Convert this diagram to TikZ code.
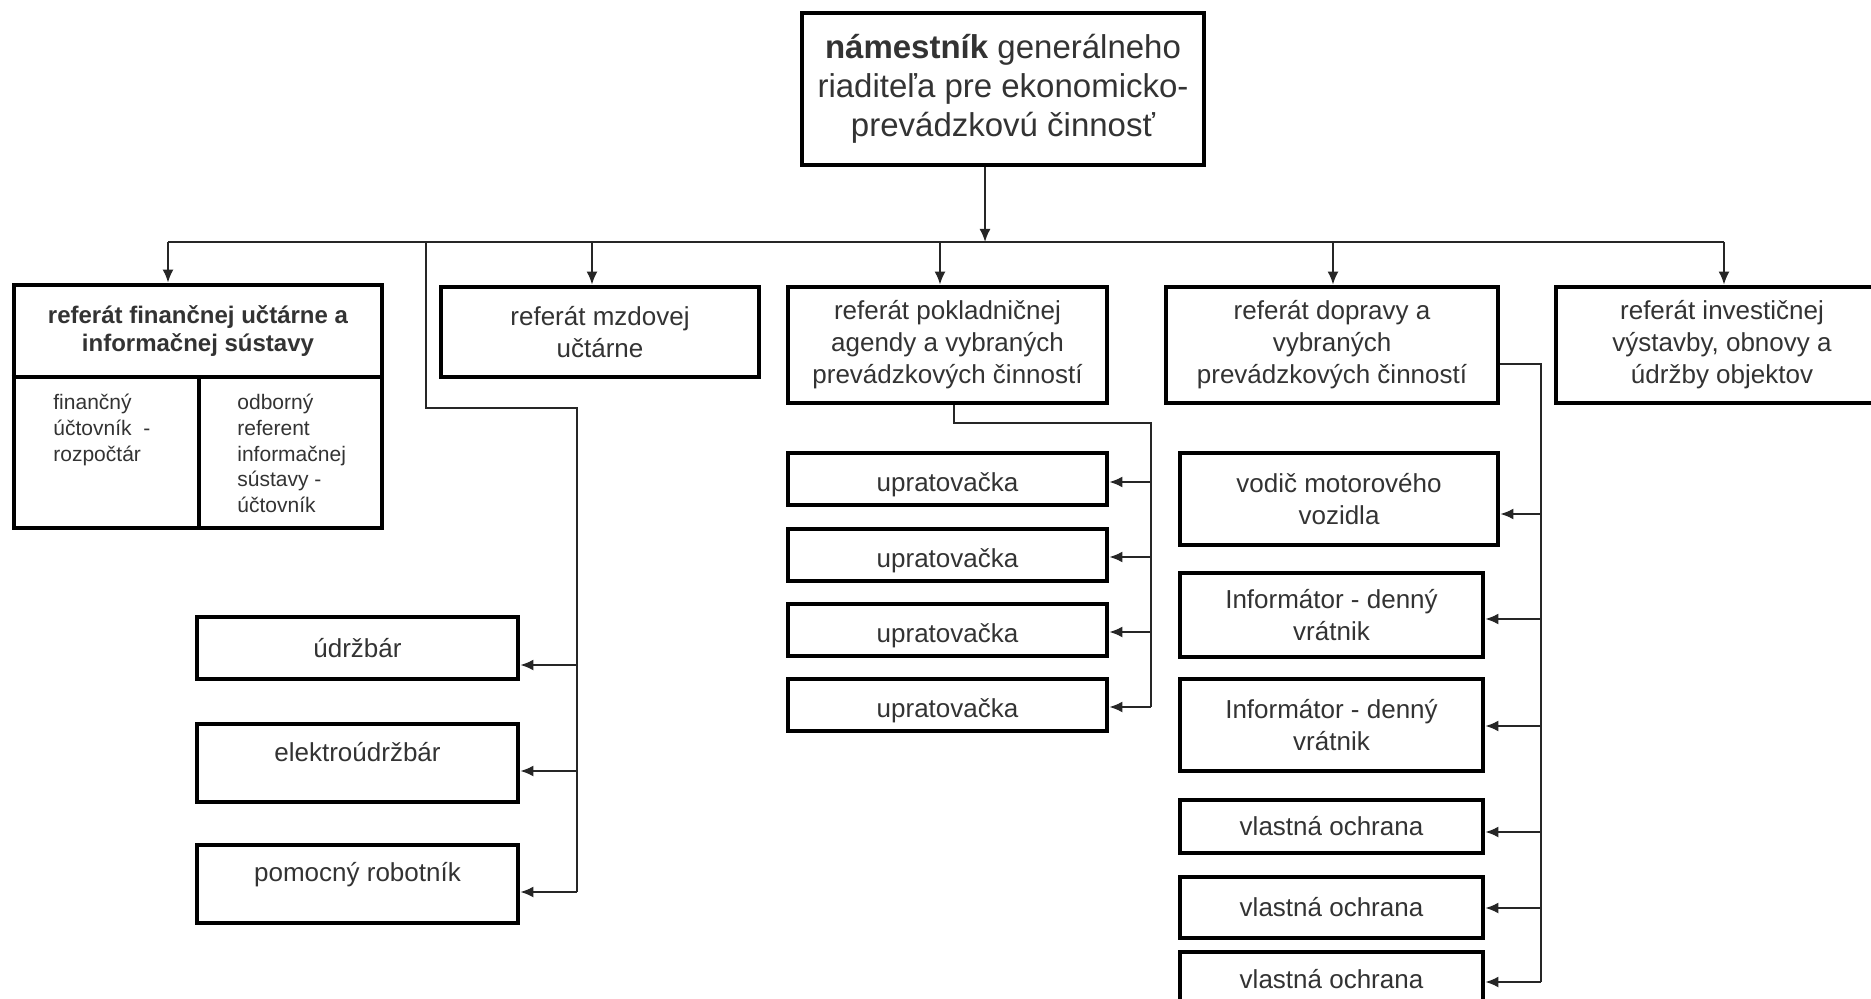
\documentclass[tikz,border=0pt]{standalone}
\usepackage{fontspec}
\setmainfont{Liberation Sans}
\usetikzlibrary{arrows.meta}
\definecolor{txt}{HTML}{333333}
\begin{document}
\begin{tikzpicture}[x=0.5pt,y=-0.5pt,
  box/.style={draw=black, line width=2.4pt, fill=white, inner sep=0pt, align=center, text=txt, font=\fontsize{13}{16}\selectfont},
  celltext/.style={anchor=north west, inner sep=0pt, align=left, text=txt, font=\fontsize{10.5}{12.8}\selectfont},
  conn/.style={draw=black!85, line width=0.9pt},
  arr/.style={conn, -{Latex[length=6.5pt,width=5.5pt]}},
  divider/.style={draw=black, line width=2.4pt}
]
\useasboundingbox (0,0) rectangle (1871,999);
\clip (0,0) rectangle (1871,999);

% top box
\node[box, font=\fontsize{16.5}{19.5}\selectfont, minimum width=201pt, minimum height=76pt] (top) at (1003,89)
  {\textbf{námestník} generálneho\\riaditeľa pre ekonomicko-\\prevádzkovú činnosť};

% second level
\node[box, minimum width=184pt, minimum height=121.5pt] (fin) at (198,406.5) {};
\node[inner sep=0pt, align=center, text=txt, font=\fontsize{12}{14}\selectfont\bfseries] (fintitle) at (198,331)
  {referát finančnej učtárne a\\informačnej sústavy};
\draw[divider] (fin.west |- 0,377) -- (fin.east |- 0,377);
\draw[divider] (199,377) -- (199,528);
\node[celltext] (cellA) at (53,394) {finančný\\účtovník\ \ -\\rozpočtár};
\node[celltext] (cellB) at (237,394) {odborný\\referent\\informačnej\\sústavy -\\účtovník};

\node[box, minimum width=159pt, minimum height=45pt] (mzd) at (600,332) {referát mzdovej\\učtárne};
\node[box, minimum width=159.5pt, minimum height=58pt] (pok) at (947.5,345) {referát pokladničnej\\agendy a vybraných\\prevádzkových činností};
\node[box, minimum width=166pt, minimum height=58pt] (dop) at (1332,345) {referát dopravy a\\vybraných\\prevádzkových činností};
\node[box, minimum width=166pt, minimum height=58pt] (inv) at (1722,345) {referát investičnej\\výstavby, obnovy a\\údržby objektov};

% left branch children
\node[box, minimum width=160.5pt, minimum height=31pt] (udr) at (357.5,648) {údržbár};
\node[box, minimum width=160.5pt, minimum height=39pt] (ele) at (357.5,763) {\raisebox{0.6pt}[0pt][0pt]{elektroúdržbár}};
\node[box, minimum width=160.5pt, minimum height=39pt] (pom) at (357.5,884) {\raisebox{1.1pt}[0pt][0pt]{pomocný robotník}};

% pokladnicna children
\node[box, minimum width=159.5pt, minimum height=26pt] (up1) at (947.5,479) {\raisebox{-6pt}[0pt][0pt]{upratovačka}};
\node[box, minimum width=159.5pt, minimum height=26pt] (up2) at (947.5,555) {\raisebox{-6pt}[0pt][0pt]{upratovačka}};
\node[box, minimum width=159.5pt, minimum height=26pt] (up3) at (947.5,630) {\raisebox{-6pt}[0pt][0pt]{upratovačka}};
\node[box, minimum width=159.5pt, minimum height=26pt] (up4) at (947.5,705) {\raisebox{-6pt}[0pt][0pt]{upratovačka}};

% doprava children
\node[box, minimum width=159pt, minimum height=46pt] (vod) at (1339,499) {vodič motorového\\vozidla};
\node[box, minimum width=151.5pt, minimum height=42pt] (inf1) at (1331.5,615) {Informátor - denný\\vrátnik};
\node[box, minimum width=151.5pt, minimum height=46pt] (inf2) at (1331.5,725) {Informátor - denný\\vrátnik};
\node[box, minimum width=151.5pt, minimum height=26.5pt] (vo1) at (1331.5,826.5) {vlastná ochrana};
\node[box, minimum width=151.5pt, minimum height=30.5pt] (vo2) at (1331.5,907.5) {vlastná ochrana};
\node[box, minimum width=151.5pt, minimum height=30pt] (vo3) at (1331.5,982) {\raisebox{3pt}{vlastná ochrana}};

% main bus
\coordinate (bus) at (985,242);
\coordinate (busL) at (168,242);
\coordinate (busR) at (1724,242);
\coordinate (mzdx) at (592,242);
\coordinate (pokx) at (940,242);
\coordinate (dopx) at (1333,242);
\draw[conn] (busL) -- (busR);
\draw[arr] (top.south -| bus) -- (bus);
\draw[arr] (busL) -- (busL |- fin.north);
\draw[arr] (mzdx) -- (mzdx |- mzd.north);
\draw[arr] (pokx) -- (pokx |- pok.north);
\draw[arr] (dopx) -- (dopx |- dop.north);
\draw[arr] (busR) -- (busR |- inv.north);

% left branch (from bus, under mzdova)
\coordinate (lb1) at (426,242);
\coordinate (lb2) at (426,408);
\coordinate (lb3) at (577,408);
\coordinate (la1) at (577,665);
\coordinate (la2) at (577,771);
\coordinate (la3) at (577,892);
\draw[conn] (lb1) -- (lb2) -- (lb3) -- (la3);
\draw[arr] (la1) -- (la1 -| udr.east);
\draw[arr] (la2) -- (la2 -| ele.east);
\draw[arr] (la3) -- (la3 -| pom.east);

% pokladnicna branch
\coordinate (p1) at (954,423);
\coordinate (p2) at (1151,423);
\coordinate (pa1) at (1151,482);
\coordinate (pa2) at (1151,557);
\coordinate (pa3) at (1151,632);
\coordinate (pa4) at (1151,707);
\draw[conn] (pok.south -| p1) -- (p1) -- (p2) -- (pa4);
\draw[arr] (pa1) -- (pa1 -| up1.east);
\draw[arr] (pa2) -- (pa2 -| up2.east);
\draw[arr] (pa3) -- (pa3 -| up3.east);
\draw[arr] (pa4) -- (pa4 -| up4.east);

% doprava branch
\coordinate (d1) at (1541,364);
\coordinate (da1) at (1541,514);
\coordinate (da2) at (1541,619);
\coordinate (da3) at (1541,726);
\coordinate (da4) at (1541,832);
\coordinate (da5) at (1541,908);
\coordinate (da6) at (1541,982);
\draw[conn] (dop.east |- d1) -- (d1) -- (da6);
\draw[arr] (da1) -- (da1 -| vod.east);
\draw[arr] (da2) -- (da2 -| inf1.east);
\draw[arr] (da3) -- (da3 -| inf2.east);
\draw[arr] (da4) -- (da4 -| vo1.east);
\draw[arr] (da5) -- (da5 -| vo2.east);
\draw[arr] (da6) -- (da6 -| vo3.east);
\end{tikzpicture}
\end{document}
